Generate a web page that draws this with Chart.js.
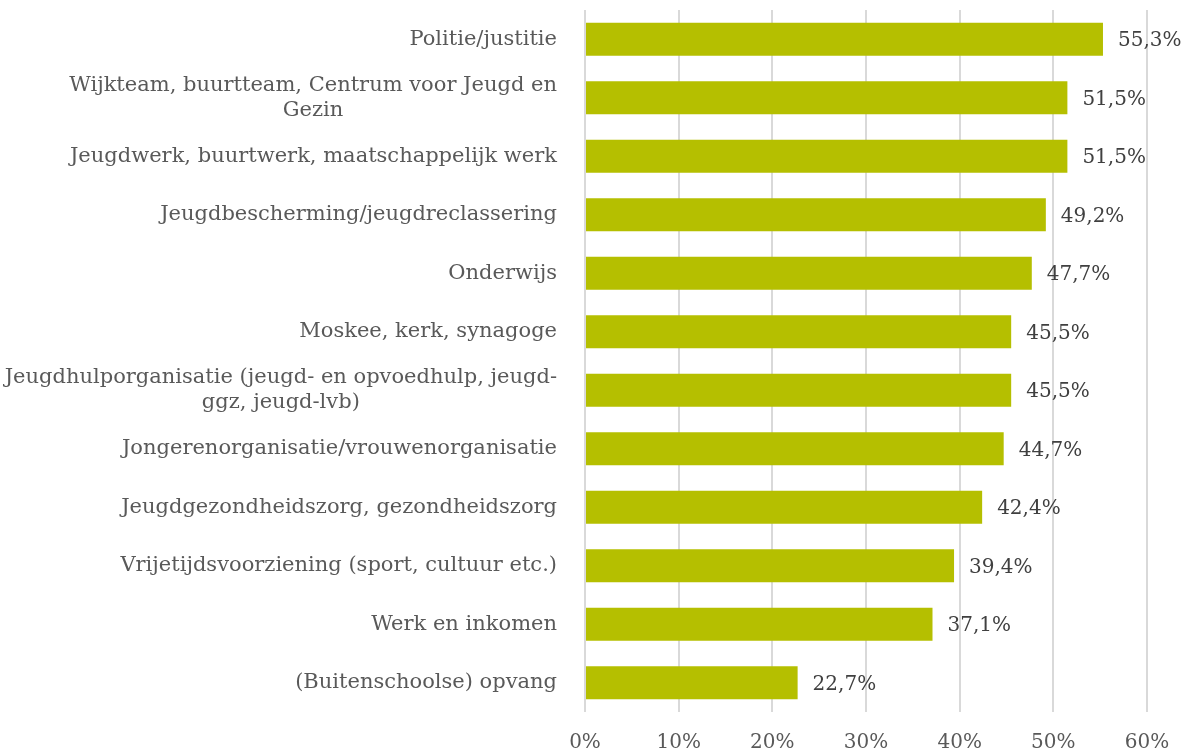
<!DOCTYPE html>
<html>
<head>
<meta charset="utf-8">
<script src="https://cdn.jsdelivr.net/npm/chart.js@4/dist/chart.umd.min.js"></script>
<style>
  html, body { margin: 0; padding: 0; background: #fff; }
  #chart { display: block; }
</style>
</head>
<body>
<canvas id="chart" width="1189" height="753"></canvas>
<script>
const categories = [
    ['Politie/justitie'],
    ['Wijkteam, buurtteam, Centrum voor Jeugd en', 'Gezin'],
    ['Jeugdwerk, buurtwerk, maatschappelijk werk'],
    ['Jeugdbescherming/jeugdreclassering'],
    ['Onderwijs'],
    ['Moskee, kerk, synagoge'],
    ['Jeugdhulporganisatie (jeugd- en opvoedhulp, jeugd-', 'ggz, jeugd-lvb)'],
    ['Jongerenorganisatie/vrouwenorganisatie'],
    ['Jeugdgezondheidszorg, gezondheidszorg'],
    ['Vrijetijdsvoorziening (sport, cultuur etc.)'],
    ['Werk en inkomen'],
    ['(Buitenschoolse) opvang']
];
const percentages = [55.3, 51.5, 51.5, 49.2, 47.7, 45.5, 45.5, 44.7, 42.4, 39.4, 37.1, 22.7];
const xTicks = [0, 10, 20, 30, 40, 50, 60];

const fontFamily = '"DejaVu Serif", "Liberation Serif", serif';

// category labels: right aligned block, lines centred within the block
const categoryLabels = {
    id: 'categoryLabels',
    afterDraw(chart) {
        const ctx = chart.ctx;
        const y = chart.scales.y;
        const right = chart.chartArea.left - 28;
        ctx.save();
        ctx.font = '21px ' + fontFamily;
        ctx.fillStyle = '#595959';
        ctx.textAlign = 'center';
        ctx.textBaseline = 'middle';
        const lh = 25;
        categories.forEach((lines, i) => {
            const w = Math.max(...lines.map(l => ctx.measureText(l).width));
            const cx = right - w / 2;
            const cy = y.getPixelForTick(i);
            lines.forEach((l, j) => {
                ctx.fillText(l, cx, cy + (j - (lines.length - 1) / 2) * lh);
            });
        });
        ctx.restore();
    }
};

// value labels to the right of each bar
const valueLabels = {
    id: 'valueLabels',
    afterDatasetsDraw(chart) {
        const ctx = chart.ctx;
        const meta = chart.getDatasetMeta(0);
        ctx.save();
        ctx.font = '20px ' + fontFamily;
        ctx.fillStyle = '#404040';
        ctx.textAlign = 'left';
        ctx.textBaseline = 'middle';
        meta.data.forEach((bar, i) => {
            const txt = percentages[i].toFixed(1).replace('.', ',') + '%';
            ctx.fillText(txt, bar.x + 15, bar.y + 2);
        });
        ctx.restore();
    }
};

const ctx = document.getElementById('chart').getContext('2d');
const myChart = new Chart(ctx, {
    type: 'bar',
    data: {
        labels: categories,
        datasets: [{
            data: percentages,
            backgroundColor: '#b5bf00',
            borderWidth: 0,
            categoryPercentage: 1,
            barPercentage: 0.56
        }]
    },
    options: {
        indexAxis: 'y',
        responsive: false,
        animation: false,
        layout: {
            padding: { top: 10, right: 42, left: 0, bottom: 0 }
        },
        plugins: {
            legend: { display: false },
            tooltip: { enabled: false }
        },
        scales: {
            x: {
                min: 0,
                max: 60,
                afterBuildTicks: scale => {
                    scale.ticks = xTicks.map(v => ({ value: v }));
                },
                grid: {
                    color: '#d9d9d9',
                    lineWidth: 2,
                    drawTicks: false
                },
                border: { display: false },
                ticks: {
                    padding: 19,
                    color: '#595959',
                    font: { family: fontFamily, size: 20 },
                    callback: v => v + '%'
                },
                afterFit: scale => { scale.height = 41; }
            },
            y: {
                grid: { display: false },
                border: { display: false },
                ticks: { display: false },
                afterFit: scale => { scale.width = 585; }
            }
        }
    },
    plugins: [categoryLabels, valueLabels]
});
</script>
</body>
</html>
